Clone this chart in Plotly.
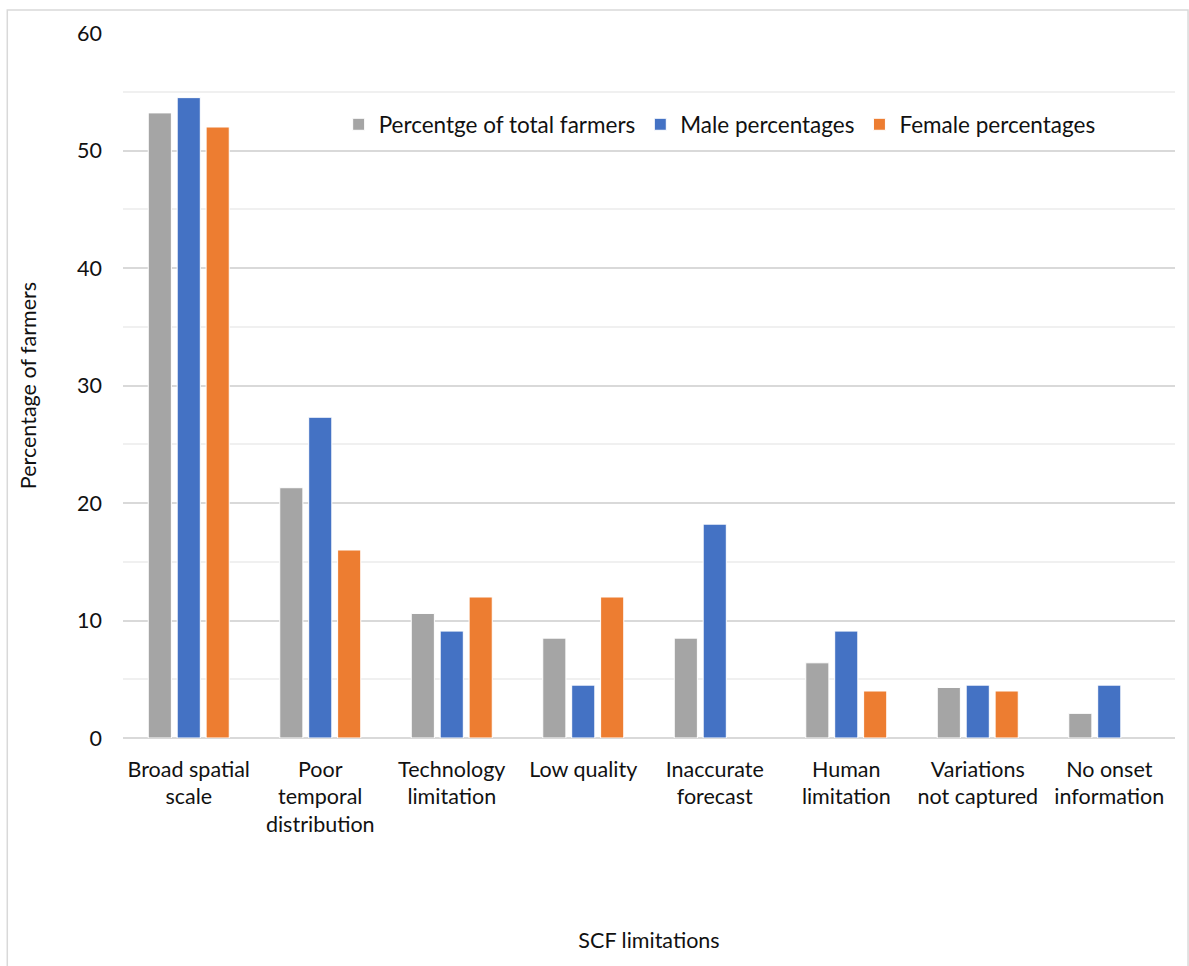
import plotly.graph_objects as go

categories = [
    "Broad spatial<br>scale",
    "Poor<br>temporal<br>distribution",
    "Technology<br>limitation",
    "Low quality",
    "Inaccurate<br>forecast",
    "Human<br>limitation",
    "Variations<br>not captured",
    "No onset<br>information",
]
total_pct = [53.2, 21.3, 10.6, 8.5, 8.5, 6.4, 4.3, 2.1]
male_pct = [54.5, 27.3, 9.1, 4.5, 18.2, 9.1, 4.5, 4.5]
female_pct = [52.0, 16.0, 12.0, 12.0, 0.0, 4.0, 4.0, 0.0]

series = [
    ("Percentge of total farmers", total_pct, "#A5A5A5"),
    ("Male percentages", male_pct, "#4472C4"),
    ("Female percentages", female_pct, "#ED7D31"),
]

FONT = "Lato, 'Open Sans', sans-serif"
FS = 21.5

fig = go.Figure()
for name, vals, color in series:
    fig.add_trace(go.Bar(
        name=name,
        x=categories,
        y=vals,
        marker=dict(
            color=color,
            line=dict(color="white", width=[1 if v > 0 else 0 for v in vals]),
        ),
    ))

fig.update_layout(
    width=1189,
    height=966,
    margin=dict(l=123, r=14, t=33, b=228),
    paper_bgcolor="white",
    plot_bgcolor="white",
    barmode="group",
    bargap=0.34,
    bargroupgap=0.2,
    font=dict(family=FONT, size=FS, color="#111111"),
    legend=dict(
        orientation="h",
        x=0.205,
        xanchor="left",
        y=0.87,
        yanchor="middle",
        font=dict(size=22.5),
        itemwidth=30,
        tracegroupgap=0,
        bgcolor="rgba(0,0,0,0)",
    ),
    xaxis=dict(
        title=dict(text="SCF limitations", font=dict(size=FS), standoff=96),
        tickfont=dict(size=FS),
        ticklabelstandoff=16,
        showgrid=False,
        showline=False,
        ticks="",
    ),
    yaxis=dict(
        title=dict(text="Percentage of farmers", font=dict(size=FS), standoff=34),
        range=[0, 60],
        dtick=10,
        tickfont=dict(size=FS),
        ticklabelstandoff=20,
        showgrid=True,
        gridcolor="#D9D9D9",
        gridwidth=1.5,
        zeroline=True,
        zerolinecolor="#D9D9D9",
        zerolinewidth=2,
        minor=dict(dtick=5, showgrid=True, gridcolor="#F0F0F0", gridwidth=1.5),
        ticks="",
        showline=False,
    ),
    shapes=[
        dict(
            type="rect", xref="paper", yref="paper",
            x0=-0.110, x1=1.0124, y0=-0.40, y1=1.0326,
            line=dict(color="#D9D9D9", width=1.5),
            fillcolor="rgba(0,0,0,0)",
            layer="below",
        )
    ],
)

fig.write_html("out.html")
